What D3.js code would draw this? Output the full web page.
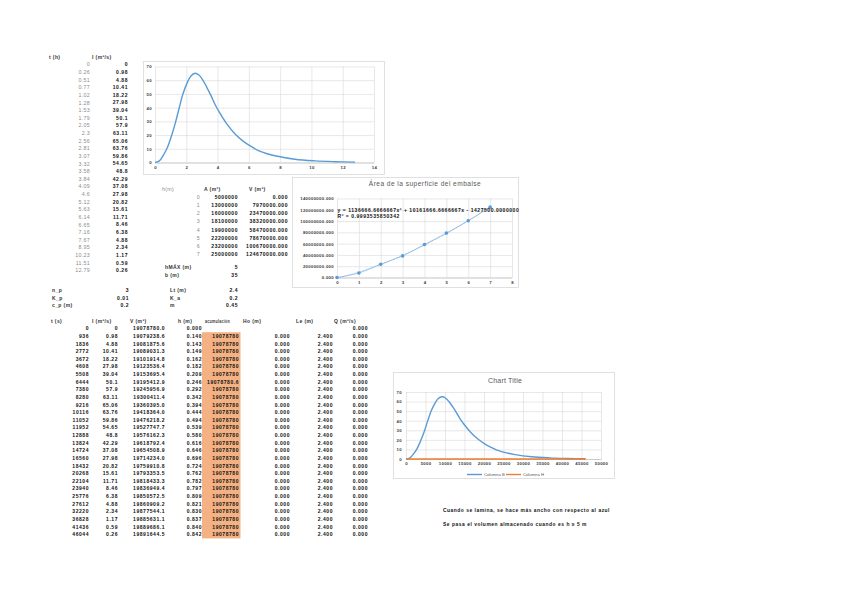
<!DOCTYPE html>
<html>
<head>
<meta charset="utf-8">
<script src="https://cdn.jsdelivr.net/npm/d3@7"></script>
<style>
    body {margin: 0; background: #fff;}
    svg text {font-family: "Liberation Sans", Arial, sans-serif;}
    .num {font-size: 5px; font-weight: bold; fill: #111; letter-spacing: 0.55px;}
    .gray {font-size: 5.3px; fill: #8c8c8c; letter-spacing: 0.3px;}
    .head {font-size: 5px; font-weight: bold; fill: #333; letter-spacing: 0.4px;}
    .axis text {font-size: 4.3px; font-weight: bold; fill: #404040; letter-spacing: 0.3px;}
    .axis line {stroke: #d9d9d9; stroke-width: 0.6;}
    .axis .domain {stroke: #bfbfbf; stroke-width: 0.7;}
</style>
</head>
<body>
<div id="chart"></div>
<script>

// hidrograma de entrada
var t_h = [0, 0.26, 0.51, 0.77, 1.02, 1.28, 1.53, 1.79, 2.05, 2.3, 2.56, 2.81, 3.07, 3.32, 3.58,
    3.84, 4.09, 4.6, 5.12, 5.63, 6.14, 6.65, 7.16, 7.67, 8.95, 10.23, 11.51, 12.79];
var inflow = [0, 0.98, 4.88, 10.41, 18.22, 27.98, 39.04, 50.1, 57.9, 63.11, 65.06, 63.76, 59.86, 54.65,
    48.8, 42.29, 37.08, 27.98, 20.82, 15.61, 11.71, 8.46, 6.38, 4.88, 2.34, 1.17, 0.59, 0.26];

// curva de embalse
var h_lvl = [0, 1, 2, 3, 4, 5, 6, 7];
var area_lvl = [5000000, 13000000, 16000000, 18100000, 19900000, 22200000, 23200000, 25000000];
var vol_lvl = [0, 7970000, 23470000, 38320000, 58470000, 78670000, 100670000, 124670000];
var extra = [["hMÁX (m)", "5"], ["b (m)", "35"]];

// parametros del vertedero
var params_left = [["n_p", "3"], ["K_p", "0.01"], ["c_p (m)", "0.2"]];
var params_right = [["Lt (m)", "2.4"], ["K_a", "0.2"], ["m", "0.45"]];

// transito
var t_s = [0, 936, 1836, 2772, 3672, 4608, 5508, 6444, 7380, 8280, 9216, 10116, 11052, 11952, 12888,
    13824, 14724, 16560, 18432, 20268, 22104, 23940, 25776, 27612, 32220, 36828, 41436, 46044];
var vol = [19078780.0, 19079238.6, 19081875.6, 19089031.3, 19101914.8, 19123536.4, 19153695.4,
    19195412.9, 19245956.9, 19300411.4, 19360395.0, 19418364.0, 19476218.2, 19527747.7, 19576162.3,
    19618792.4, 19654508.9, 19714234.0, 19759910.8, 19793353.5, 19818433.3, 19836949.4, 19850572.5,
    19860909.2, 19877544.1, 19885631.1, 19889686.1, 19891644.5];
var h_res = [0.000, 0.140, 0.143, 0.149, 0.162, 0.182, 0.209, 0.246, 0.292, 0.342, 0.394, 0.444,
    0.494, 0.539, 0.580, 0.616, 0.646, 0.696, 0.724, 0.762, 0.782, 0.797, 0.809, 0.821, 0.830,
    0.837, 0.840, 0.842];
var acum = [19078780, 19078780, 19078780, 19078780, 19078780, 19078780, 19078780.6, 19078780,
    19078780, 19078780, 19078780, 19078780, 19078780, 19078780, 19078780, 19078780, 19078780,
    19078780, 19078780, 19078780, 19078780, 19078780, 19078780, 19078780, 19078780, 19078780, 19078780];
var ho = [0, 0, 0, 0, 0, 0, 0, 0, 0, 0, 0, 0, 0, 0, 0, 0, 0, 0, 0, 0, 0, 0, 0, 0, 0, 0, 0];
var le = [2.4, 2.4, 2.4, 2.4, 2.4, 2.4, 2.4, 2.4, 2.4, 2.4, 2.4, 2.4, 2.4, 2.4, 2.4, 2.4, 2.4, 2.4,
    2.4, 2.4, 2.4, 2.4, 2.4, 2.4, 2.4, 2.4, 2.4];
var q_out = [0, 0, 0, 0, 0, 0, 0, 0, 0, 0, 0, 0, 0, 0, 0, 0, 0, 0, 0, 0, 0, 0, 0, 0, 0, 0, 0, 0];

var notes = ["Cuando se lamina, se hace más ancho con respecto al azul",
    "Se pasa el volumen almacenado cuando es h ≥ 5 m"];

var blue = "#5b9bd5", orange = "#ed7d31";

var svg = d3.select("#chart").append("svg")
    .attr("width", 848)
    .attr("height", 599);

// ---------- tablas ----------

function column(values, xRight, rows, fmt, cls, offset) {
    offset = offset || 0;
    svg.append("g")
        .selectAll("text")
        .data(values)
        .join("text")
        .attr("class", cls)
        .attr("x", xRight)
        .attr("y", (d, i) => rows(i + offset))
        .attr("dy", "0.35em")
        .attr("text-anchor", "end")
        .text(fmt);
}

function header(txt, x, y, cls) {
    return svg.append("text")
        .attr("class", cls || "head")
        .attr("x", x)
        .attr("y", y)
        .attr("dy", "0.35em")
        .text(txt);
}

var str = d => String(d);
var f1 = d => d.toFixed(1);
var fAcum = d => Number.isInteger(d) ? String(d) : d.toFixed(1);
var f3 = d => d.toFixed(3);

// tabla 1
var rows1 = d3.scaleLinear().domain([0, 27]).range([64.5, 270.5]);
header("t (h)", 49, 57);
header("I (m³/s)", 92, 57);
column(t_h, 90, rows1, str, "gray");
column(inflow, 128, rows1, str, "num");

// tabla 2
var rows2 = d3.scaleLinear().domain([0, 7]).range([197, 254.5]);
header("h(m)", 162, 189.5, "gray");
header("A (m²)", 204, 189.5);
header("V (m³)", 249, 189.5);
column(h_lvl, 200, rows2, str, "gray");
column(area_lvl, 238, rows2, str, "num");
column(vol_lvl, 288, rows2, f3, "num");
extra.forEach(function(e, i) {
    header(e[0], 165, 267.5 + i * 7.5);
    svg.append("text").attr("class", "num").attr("x", 238).attr("y", 267.5 + i * 7.5)
        .attr("dy", "0.35em").attr("text-anchor", "end").text(e[1]);
});

// parametros
var rowsP = d3.scaleLinear().domain([0, 2]).range([290.5, 305.3]);
params_left.forEach(function(p, i) {
    header(p[0], 52, rowsP(i));
    svg.append("text").attr("class", "num").attr("x", 129).attr("y", rowsP(i))
        .attr("dy", "0.35em").attr("text-anchor", "end").text(p[1]);
});
params_right.forEach(function(p, i) {
    header(p[0], 170, rowsP(i));
    svg.append("text").attr("class", "num").attr("x", 238).attr("y", rowsP(i))
        .attr("dy", "0.35em").attr("text-anchor", "end").text(p[1]);
});

// tabla 3
var rows3 = d3.scaleLinear().domain([0, 27]).range([328.5, 534.5]);
svg.append("rect")
    .attr("x", 202)
    .attr("y", rows3(1) - 3.9)
    .attr("width", 38.5)
    .attr("height", rows3(27) - rows3(1) + 7.8)
    .attr("fill", "#f4b183");

[["t (s)", 51], ["I (m³/s)", 92], ["V (m³)", 130], ["h (m)", 178], ["acumulación", 205],
    ["Ho (m)", 243], ["Le (m)", 296], ["Q (m³/s)", 334]].forEach(function(hd) {
    var t = header(hd[0], hd[1], 321);
    if (hd[0] === "acumulación") t.attr("textLength", 25).attr("lengthAdjust", "spacingAndGlyphs");
});
column(t_s, 89, rows3, str, "num");
column(inflow, 118, rows3, str, "num");
column(vol, 165, rows3, f1, "num");
column(h_res, 202, rows3, f3, "num");
column(acum, 239, rows3, fAcum, "num", 1);
column(ho, 290, rows3, f3, "num", 1);
column(le, 333, rows3, f3, "num", 1);
column(q_out, 368, rows3, f3, "num");

// notas
notes.forEach(function(n, i) {
    svg.append("text")
        .attr("class", "num")
        .attr("x", 443)
        .attr("y", 510.5 + i * 14)
        .attr("dy", "0.35em")
        .attr("textLength", i ? 144 : 167)
        .attr("lengthAdjust", "spacingAndGlyphs")
        .text(n);
});

// ---------- graficos ----------

function chart(cfg) {
    svg.append("rect")
        .attr("x", cfg.box[0] + 0.5)
        .attr("y", cfg.box[1] + 0.5)
        .attr("width", cfg.box[2])
        .attr("height", cfg.box[3])
        .attr("fill", "#fff")
        .attr("stroke", "#d9d9d9")
        .attr("stroke-width", 0.8);

    var x = d3.scaleLinear().domain(cfg.xDomain).range([cfg.left, cfg.right]);
    var y = d3.scaleLinear().domain(cfg.yDomain).range([cfg.bottom, cfg.top]);
    var g = svg.append("g");

    var yAxis = d3.axisLeft(y)
        .tickValues(cfg.yTicks)
        .tickSizeInner(-(cfg.right - cfg.left))
        .tickSizeOuter(0)
        .tickPadding(cfg.yPad || 3)
        .tickFormat(cfg.yFormat);

    var xAxis = d3.axisBottom(x)
        .tickValues(cfg.xTicks)
        .tickSizeInner(cfg.xGrid ? -(cfg.bottom - cfg.top) : 0)
        .tickSizeOuter(0)
        .tickPadding(3)
        .tickFormat(cfg.xFormat);

    g.append("g")
        .attr("class", "axis")
        .attr("transform", "translate(" + cfg.left + ",0)")
        .call(yAxis)
        .call(s => s.select(".domain").remove());

    g.append("g")
        .attr("class", "axis")
        .attr("transform", "translate(0," + cfg.bottom + ")")
        .call(xAxis);

    if (cfg.title) {
        g.append("text")
            .attr("x", cfg.titleX)
            .attr("y", cfg.titleY)
            .attr("dy", "0.35em")
            .attr("text-anchor", "middle")
            .attr("fill", "#595959")
            .attr("font-size", cfg.titleSize)
            .attr("letter-spacing", cfg.titleSpacing)
            .text(cfg.title);
    }

    return {x: x, y: y, g: g};
}

// grafico 1: hidrograma en horas
var c1 = chart({
    box: [143, 61, 241, 113],
    left: 155, right: 374, top: 66.5, bottom: 162.5,
    xDomain: [0, 14], yDomain: [0, 70],
    xTicks: d3.range(0, 15, 2), yTicks: d3.range(0, 71, 10),
    xFormat: d3.format("d"), yFormat: d3.format("d"),
    xGrid: true
});
c1.g.append("path")
    .attr("d", d3.line()
        .x((d, i) => c1.x(t_h[i]))
        .y(d => c1.y(d))
        .curve(d3.curveCatmullRom)(inflow))
    .attr("fill", "none")
    .attr("stroke", blue)
    .attr("stroke-width", 1.4);

// grafico 2: curva del embalse
var c2 = chart({
    box: [292, 177, 226, 110],
    left: 337, right: 512, top: 198.5, bottom: 277.5,
    xDomain: [0, 8], yDomain: [0, 140000000],
    xTicks: d3.range(0, 9), yTicks: d3.range(0, 140000001, 20000000),
    xFormat: d3.format("d"), yFormat: d => d.toFixed(3),
    xGrid: true,
    title: "Área de la superficie del embalse",
    titleX: 425, titleY: 184, titleSize: 6.6, titleSpacing: 0.45
});

// tendencia polinomica de orden 2 (minimos cuadrados)
var fit = (function() {
    var n = h_lvl.length, mx = d3.mean(h_lvl), my = d3.mean(vol_lvl);
    var u = h_lvl.map(v => v - mx);
    var su2 = d3.sum(u, v => v * v);
    var p2 = u.map(v => v * v - su2 / n);
    var b1 = d3.sum(u, (v, i) => v * vol_lvl[i]) / su2;
    var a = d3.sum(p2, (v, i) => v * vol_lvl[i]) / d3.sum(p2, v => v * v);
    var b = b1 - 2 * a * mx;
    var c = my - b1 * mx + a * (mx * mx - su2 / n);
    var f = v => a * v * v + b * v + c;
    var ssr = d3.sum(h_lvl, (v, i) => Math.pow(vol_lvl[i] - f(v), 2));
    var sst = d3.sum(vol_lvl, v => Math.pow(v - my, 2));
    return {a: a, b: b, c: c, f: f, r2: 1 - ssr / sst};
})();

c2.g.append("path")
    .attr("d", d3.line()
        .x((d, i) => c2.x(h_lvl[i]))
        .y(d => c2.y(d))
        .curve(d3.curveCatmullRom)(vol_lvl))
    .attr("fill", "none")
    .attr("stroke", "#9dc3e6")
    .attr("stroke-width", 0.9);

c2.g.append("path")
    .attr("d", d3.line()
        .x(d => c2.x(d))
        .y(d => c2.y(fit.f(d)))(d3.range(0, 7.01, 0.1)))
    .attr("fill", "none")
    .attr("stroke", blue)
    .attr("stroke-width", 0.6)
    .attr("stroke-dasharray", "0.8,0.8");

c2.g.selectAll("circle")
    .data(vol_lvl)
    .enter()
    .append("circle")
    .attr("r", 1.8)
    .attr("cx", (d, i) => c2.x(h_lvl[i]))
    .attr("cy", d => c2.y(d))
    .attr("fill", blue);

var eq = "y = " + fit.a.toFixed(7) + "x² + " + fit.b.toFixed(7) + "x " +
    (fit.c < 0 ? "- " : "+ ") + Math.abs(fit.c).toFixed(7);
c2.g.append("text")
    .attr("class", "num")
    .attr("x", 337.5).attr("y", 210.5).attr("dy", "0.35em")
    .attr("fill", "#404040")
    .attr("letter-spacing", 0.35)
    .text(eq);
c2.g.append("text")
    .attr("class", "num")
    .attr("x", 337.5).attr("y", 215.8).attr("dy", "0.35em")
    .attr("fill", "#404040")
    .attr("letter-spacing", 0.35)
    .text("R² = " + fit.r2.toFixed(13));

// grafico 3: entrada y salida en segundos
var c3 = chart({
    box: [393, 372, 221, 106],
    left: 406, right: 601, top: 392, bottom: 459,
    xDomain: [0, 50000], yDomain: [0, 70],
    xTicks: d3.range(0, 50001, 5000), yTicks: d3.range(0, 71, 10),
    xFormat: d3.format("d"), yFormat: d3.format("d"),
    xGrid: true, yPad: 4,
    title: "Chart Title",
    titleX: 505, titleY: 381, titleSize: 7, titleSpacing: 0.2
});
c3.g.append("path")
    .attr("d", d3.line()
        .x((d, i) => c3.x(t_s[i]))
        .y(d => c3.y(d))
        .curve(d3.curveCatmullRom)(inflow))
    .attr("fill", "none")
    .attr("stroke", blue)
    .attr("stroke-width", 1.4);
c3.g.append("path")
    .attr("d", d3.line()
        .x((d, i) => c3.x(t_s[i]))
        .y(d => c3.y(d))(q_out))
    .attr("fill", "none")
    .attr("stroke", orange)
    .attr("stroke-width", 1.4);

var legend = [["Columna B", blue, 467], ["Columna H", orange, 506]];
legend.forEach(function(l) {
    c3.g.append("line")
        .attr("x1", l[2]).attr("x2", l[2] + 15)
        .attr("y1", 474.5).attr("y2", 474.5)
        .attr("stroke", l[1]).attr("stroke-width", 1.4);
    c3.g.append("text")
        .attr("x", l[2] + 17).attr("y", 474.5).attr("dy", "0.35em")
        .attr("font-size", 4.2).attr("fill", "#595959")
        .text(l[0]);
});

</script>
</body>
</html>
